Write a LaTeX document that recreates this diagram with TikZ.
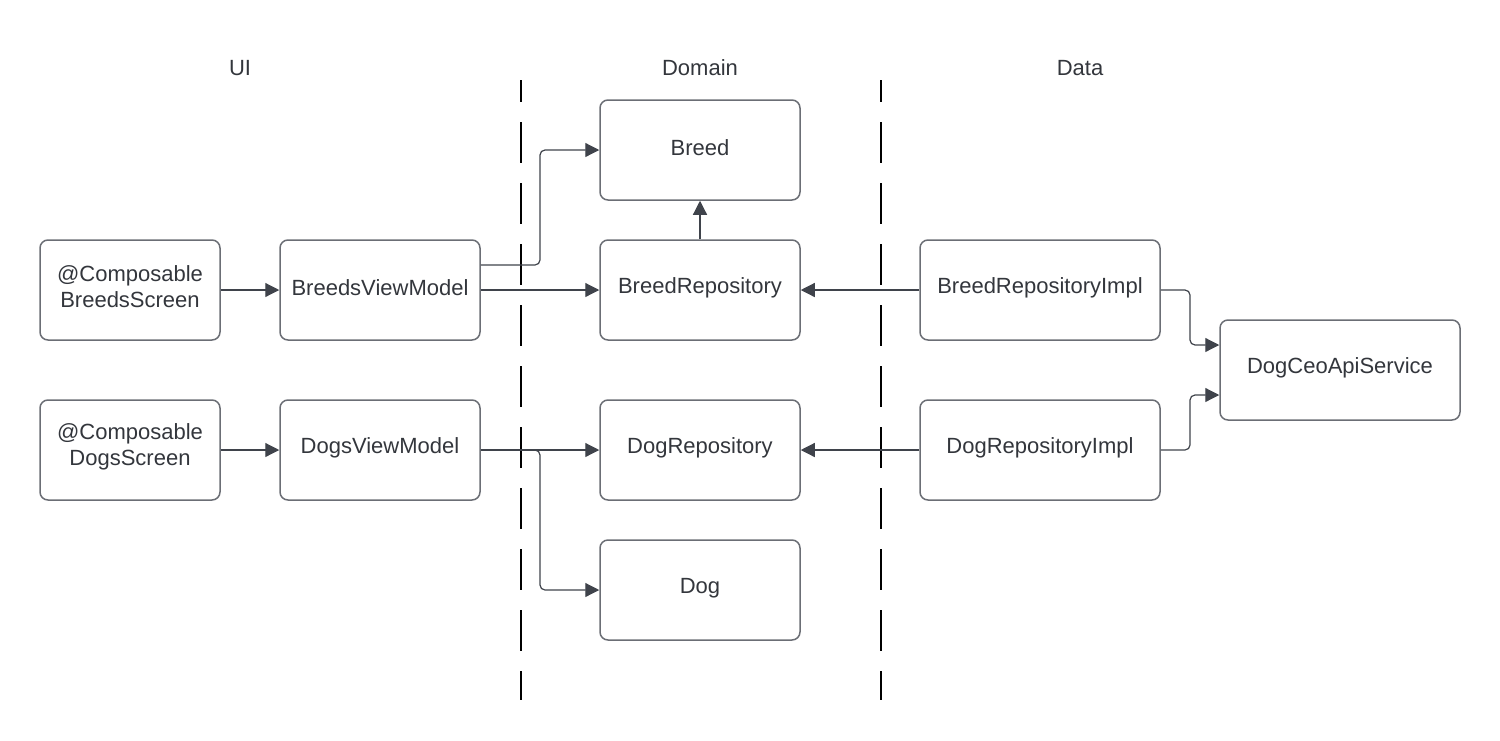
\documentclass[tikz,border=0pt]{standalone}
\usepackage{fontspec}
\setmainfont{Liberation Sans}
\usetikzlibrary{arrows.meta}
\definecolor{boxline}{HTML}{6B6E75}
\definecolor{conn}{HTML}{3F434B}
\definecolor{txt}{HTML}{33363C}
\tikzset{
  box/.style={draw=boxline, line width=0.75pt, rounded corners=4pt, minimum width=#1, minimum height=50pt, inner sep=0pt, align=center, text=txt, text height=5.5pt, font=\fontsize{11pt}{13pt}\selectfont},
  box/.default=100pt,
  twoline/.style={text height=17.5pt},
  conn/.style={draw=conn, line width=0.6pt, rounded corners=2.5pt, -{Triangle[length=7pt,width=7pt]}},
  sep/.style={draw=black, line width=1.4pt, dash pattern=on 20.5pt off 10pt, dash phase=9.5pt},
  head/.style={text=txt, font=\fontsize{11pt}{13pt}\selectfont}
}
\begin{document}
\begin{tikzpicture}[x=0.5pt,y=-0.5pt]
\useasboundingbox (0,0) rectangle (1500,740);
% headings
\node[head] (hui) at (240,68) {UI};
\node[head] (hdom) at (700,68) {Domain};
\node[head] (hdata) at (1080,68) {Data};
% separators
\coordinate (s1a) at (521,80); \coordinate (s1b) at (521,700);
\coordinate (s2a) at (881,80); \coordinate (s2b) at (881,700);
\draw[sep] (s1a) -- (s1b);
\draw[sep] (s2a) -- (s2b);
% boxes
\node[box=90pt, twoline] (bs) at (130,290) {@Composable\\BreedsScreen};
\node[box] (bvm) at (380,290) {BreedsViewModel};
\node[box] (breed) at (700,150) {Breed};
\node[box] (brepo) at (700,290) {BreedRepository};
\node[box=120pt] (brimpl) at (1040,290) {BreedRepositoryImpl};
\node[box=120pt] (api) at (1340,370) {DogCeoApiService};
\node[box=90pt, twoline] (ds) at (130,450) {@Composable\\DogsScreen};
\node[box] (dvm) at (380,450) {DogsViewModel};
\node[box] (drepo) at (700,450) {DogRepository};
\node[box=120pt] (drimpl) at (1040,450) {DogRepositoryImpl};
\node[box] (dog) at (700,590) {Dog};
% connectors
\draw[conn] (bs) -- (bvm);
\draw[conn] (bvm.east |- 0,265) -- (540,265) -- (540,150) -- (breed.west);
\draw[conn] (bvm) -- (brepo);
\draw[conn] (brepo) -- (breed);
\draw[conn] (brimpl) -- (brepo);
\draw[conn] (brimpl.east) -- (1190,290) -- (1190,345) -- (api.west |- 0,345);
\draw[conn] (drimpl.east) -- (1190,450) -- (1190,395) -- (api.west |- 0,395);
\draw[conn] (ds) -- (dvm);
\draw[conn] (dvm) -- (drepo);
\draw[conn] (dvm.east) -- (540,450) -- (540,590) -- (dog.west);
\draw[conn] (drimpl) -- (drepo);
\end{tikzpicture}
\end{document}
